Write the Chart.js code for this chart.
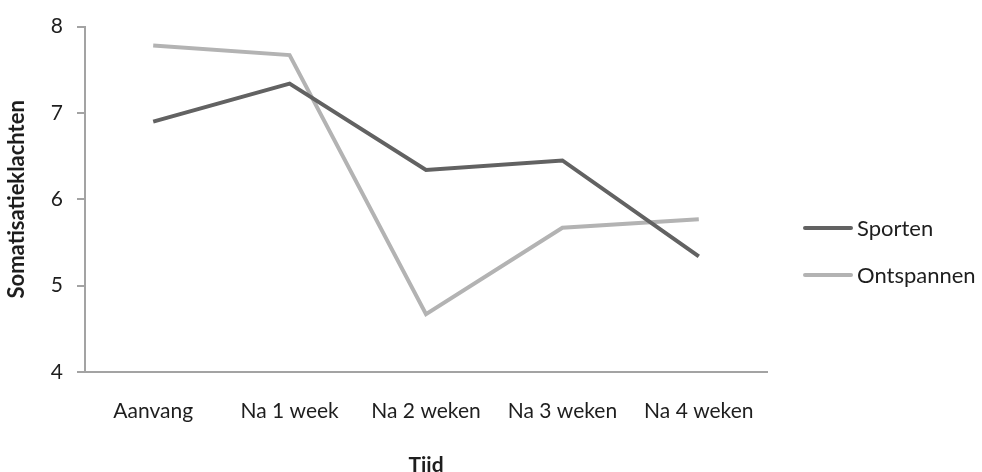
<!DOCTYPE html>
<html>
<head>
<meta charset="utf-8">
<script src="https://cdn.jsdelivr.net/npm/chart.js@4/dist/chart.umd.min.js"></script>
<style>
  html, body { margin: 0; padding: 0; background: #ffffff; }
  #wrap { width: 982px; height: 472px; }
</style>
</head>
<body>
<div id="wrap"><canvas id="c" width="982" height="472"></canvas></div>
<script>
// Meetmomenten en gemiddelde somatisatieklachten per groep
const categories = ['Aanvang', 'Na 1 week', 'Na 2 weken', 'Na 3 weken', 'Na 4 weken'];
const sporten = [6.90, 7.34, 6.34, 6.45, 5.34];
const ontspannen = [7.78, 7.67, 4.67, 5.67, 5.77];
const yTicks = [4, 5, 6, 7, 8];

const FONT = 'Lato, "Open Sans", sans-serif';
const AXIS = '#a3a3a3';
const TEXT = '#1e1e1e';

// Legend drawn to the right of the plot: a short line sample followed by the series name
const sideLegend = {
  id: 'sideLegend',
  afterDraw(chart) {
    const ctx = chart.ctx;
    const x0 = chart.chartArea.right + 38;
    const rows = [228, 275];
    ctx.save();
    ctx.font = '22px ' + FONT;
    ctx.textBaseline = 'middle';
    chart.data.datasets.forEach((ds, i) => {
      const y = rows[i];
      ctx.strokeStyle = ds.borderColor;
      ctx.lineWidth = ds.borderWidth;
      ctx.lineCap = 'round';
      ctx.beginPath();
      ctx.moveTo(x0, y);
      ctx.lineTo(x0 + 46, y);
      ctx.stroke();
      ctx.fillStyle = TEXT;
      ctx.fillText(ds.label, x0 + 52, y + 1);
    });
    ctx.restore();
  }
};

new Chart(document.getElementById('c'), {
  type: 'line',
  data: {
    labels: categories,
    datasets: [
      { label: 'Sporten', data: sporten, borderColor: '#626262', borderWidth: 4, pointRadius: 0, tension: 0 },
      { label: 'Ontspannen', data: ontspannen, borderColor: '#b3b3b3', borderWidth: 4, pointRadius: 0, tension: 0 }
    ]
  },
  options: {
    responsive: false,
    animation: false,
    layout: { padding: { left: 0, top: 24, right: 215, bottom: 0 } },
    plugins: { legend: { display: false }, tooltip: { enabled: false } },
    scales: {
      x: {
        offset: true,
        grid: { display: false, drawTicks: false },
        border: { display: true, color: AXIS, width: 2 },
        ticks: { color: TEXT, font: { family: FONT, size: 21 }, padding: 27, maxRotation: 0, autoSkip: false },
        title: { display: true, text: 'Tijd', color: TEXT, font: { family: FONT, size: 21, weight: 'bold' }, padding: { top: 20, bottom: -6 } },
        afterFit(scale) { scale.height = 100; }
      },
      y: {
        min: 4,
        max: 8,
        afterBuildTicks(scale) { scale.ticks = yTicks.map(v => ({ value: v })); },
        grid: { drawOnChartArea: false, drawTicks: true, tickLength: 8, color: AXIS, lineWidth: 2 },
        border: { display: true, color: AXIS, width: 2 },
        ticks: { color: TEXT, font: { family: FONT, size: 21 }, padding: 14 },
        title: { display: true, text: 'Somatisatieklachten', color: TEXT, font: { family: FONT, size: 22, weight: 'bold' }, padding: { top: 4, bottom: 0 } },
        afterFit(scale) { scale.width = 85; }
      }
    }
  },
  plugins: [sideLegend]
});
</script>
</body>
</html>
